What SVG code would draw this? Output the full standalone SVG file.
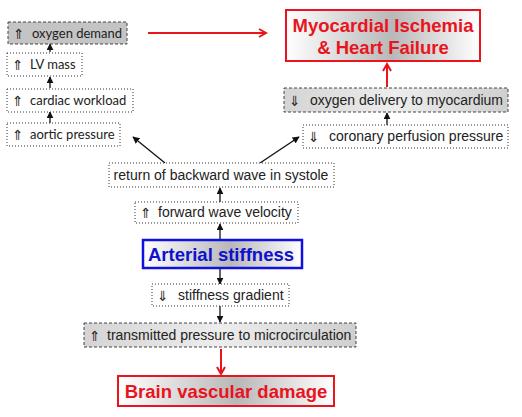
<svg xmlns="http://www.w3.org/2000/svg" width="522" height="417" viewBox="0 0 522 417">
<style>
.dot{fill:#fff;stroke:#333;stroke-width:1;stroke-dasharray:1,2}
.dash{stroke:#444;stroke-width:1;stroke-dasharray:3,2}
.l{font-family:Lato,"Liberation Sans",sans-serif;font-size:13px;fill:#222}
.r{font-family:"Liberation Sans",Arial,sans-serif;font-size:14px;fill:#222}
.sym{font-family:"DejaVu Sans",sans-serif;font-size:14px;fill:#222}
.big{font-family:"Liberation Sans",Arial,sans-serif;font-weight:bold;font-size:18.5px}
.ar{stroke:#111;stroke-width:1.3;fill:none;marker-end:url(#ah)}
.red{stroke:#e8141e;stroke-width:2;fill:none;marker-end:url(#rh)}
</style>
<defs>
<marker id="ah" viewBox="0 0 10 10" refX="9" refY="5" markerWidth="7" markerHeight="7" markerUnits="userSpaceOnUse" orient="auto"><path d="M0,0 L10,5 L0,10 z" fill="#111"/></marker>
<marker id="rh" viewBox="0 0 10 10" refX="8" refY="5" markerWidth="10" markerHeight="10" markerUnits="userSpaceOnUse" orient="auto"><path d="M1,1 L8,5 L1,9" fill="none" stroke="#e8141e" stroke-width="2"/></marker>
<linearGradient id="g1" x1="0" x2="1" y1="0" y2="0"><stop offset="0" stop-color="#fff"/><stop offset="0.55" stop-color="#b8b8b8"/><stop offset="1" stop-color="#fff"/></linearGradient>
<linearGradient id="g2" x1="0" x2="1" y1="0" y2="0"><stop offset="0" stop-color="#d4d4d4"/><stop offset="0.5" stop-color="#ededed"/><stop offset="1" stop-color="#cfcfcf"/></linearGradient>
</defs>
<g id="connectors">
<line class="red" x1="148" y1="33" x2="266" y2="33"/>
<line class="ar" x1="50" y1="52" x2="50" y2="44"/>
<line class="ar" x1="50" y1="88" x2="50" y2="77"/>
<line class="ar" x1="50" y1="123" x2="50" y2="112"/>
<line class="ar" x1="165" y1="163" x2="133" y2="137"/>
<line class="ar" x1="260" y1="163" x2="299" y2="137"/>
<line class="red" x1="387" y1="87" x2="387" y2="64"/>
<line class="ar" x1="387" y1="125" x2="387" y2="113"/>
<line class="ar" x1="220" y1="202" x2="220" y2="188"/>
<line class="ar" x1="220" y1="240" x2="220" y2="224"/>
<line class="ar" x1="220" y1="268" x2="220" y2="284"/>
<line class="ar" x1="220" y1="306" x2="220" y2="322"/>
<line class="red" x1="221" y1="349" x2="221" y2="374"/>
</g>
<g id="oxygen-demand">
<rect x="8" y="22" width="119" height="22" fill="#c4c4c4" class="dash"/>
<text class="sym" x="13" y="39">⇑</text><text class="l" x="32" y="38">oxygen demand</text>
</g>
<g id="lv-mass">
<rect x="7" y="53" width="75" height="23" class="dot"/>
<text class="sym" x="12" y="70">⇑</text><text class="l" x="30" y="69">LV mass</text>
</g>
<g id="cardiac-workload">
<rect x="7" y="89" width="126" height="23" class="dot"/>
<text class="sym" x="12" y="106">⇑</text><text class="l" x="30" y="105">cardiac workload</text>
</g>
<g id="aortic-pressure">
<rect x="7" y="123" width="113" height="23" class="dot"/>
<text class="sym" x="12" y="140">⇑</text><text class="l" x="30" y="139">aortic pressure</text>
</g>
<g id="myocardial-ischemia">
<rect x="286" y="10" width="194" height="51" fill="url(#g1)" stroke="#e8141e" stroke-width="2"/>
<text class="big" fill="#e8141e" x="383" y="32" text-anchor="middle">Myocardial Ischemia</text>
<text class="big" fill="#e8141e" x="383" y="54" text-anchor="middle">&amp; Heart Failure</text>
</g>
<g id="oxygen-delivery">
<rect x="284" y="88" width="224" height="24" fill="url(#g2)" class="dash"/>
<text class="sym" x="289" y="106">⇓</text><text class="r" x="310" y="105">oxygen delivery to myocardium</text>
</g>
<g id="coronary-perfusion">
<rect x="303" y="125" width="205" height="23" class="dot"/>
<text class="sym" x="308" y="142">⇓</text><text class="r" x="329" y="141">coronary perfusion pressure</text>
</g>
<g id="return-backward">
<rect x="109" y="163" width="225" height="24" class="dot"/>
<text class="r" x="221" y="180" text-anchor="middle">return of backward wave in systole</text>
</g>
<g id="forward-wave">
<rect x="135" y="202" width="163" height="21" class="dot"/>
<text class="sym" x="140" y="218">⇑</text><text class="r" x="158" y="217">forward wave velocity</text>
</g>
<g id="arterial-stiffness">
<rect x="143" y="240" width="159" height="28" fill="url(#g1)" stroke="#1010e0" stroke-width="2.5"/>
<text class="big" fill="#1010d0" x="221" y="261" text-anchor="middle">Arterial stiffness</text>
</g>
<g id="stiffness-gradient">
<rect x="152" y="284" width="137" height="22" class="dot"/>
<text class="sym" x="157" y="301">⇓</text><text class="r" x="178" y="300">stiffness gradient</text>
</g>
<g id="transmitted-pressure">
<rect x="84" y="323" width="272" height="24" fill="url(#g2)" class="dash"/>
<text class="sym" x="89" y="341">⇑</text><text class="r" x="107" y="340">transmitted pressure to microcirculation</text>
</g>
<g id="brain-damage">
<rect x="118" y="376" width="216" height="30" fill="url(#g1)" stroke="#e8141e" stroke-width="2"/>
<text class="big" fill="#e8141e" x="226" y="398" text-anchor="middle">Brain vascular damage</text>
</g>
</svg>
